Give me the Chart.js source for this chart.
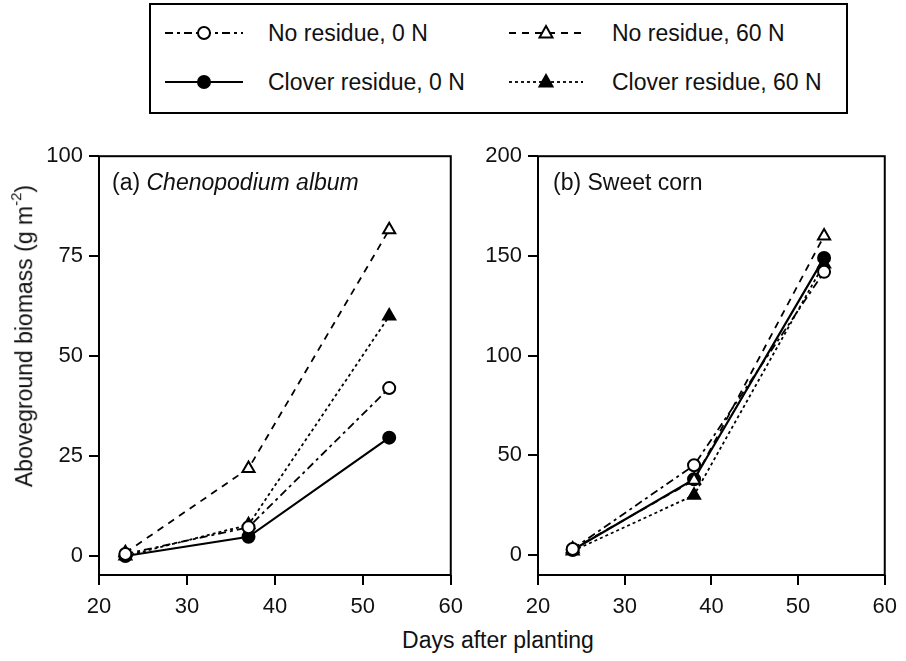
<!DOCTYPE html>
<html>
<head>
<meta charset="utf-8">
<script src="https://cdn.jsdelivr.net/npm/chart.js@4"></script>
<style>
  body { margin: 0; background: #fff; font-family: "Liberation Sans", Arial, sans-serif; }
  #wrap { position: relative; width: 906px; height: 661px; overflow: hidden; }
  .abs { position: absolute; }
  #legend { left: 149px; top: 3px; width: 699px; height: 111px; border: 2px solid #000; box-sizing: border-box; }
  .ltxt { font-size: 23px; line-height: 1; color: #111; white-space: nowrap; }
</style>
</head>
<body>
<div id="wrap">
  <div id="legend" class="abs"></div>
  <canvas id="sw0" class="abs" style="left:162px;top:20px" width="84" height="26"></canvas>
  <canvas id="sw1" class="abs" style="left:506px;top:20px" width="80" height="26"></canvas>
  <canvas id="sw2" class="abs" style="left:162px;top:69px" width="84" height="26"></canvas>
  <canvas id="sw3" class="abs" style="left:506px;top:69px" width="80" height="26"></canvas>
  <div class="abs ltxt" style="left:268px;top:22px">No residue, 0 N</div>
  <div class="abs ltxt" style="left:612px;top:22px">No residue, 60 N</div>
  <div class="abs ltxt" style="left:268px;top:71px">Clover residue, 0 N</div>
  <div class="abs ltxt" style="left:612px;top:71px">Clover residue, 60 N</div>

  <div class="abs" style="left:0;top:137px;width:472px;height:483px"><canvas id="chartA" width="472" height="483"></canvas></div>
  <div class="abs" style="left:470px;top:137px;width:436px;height:483px"><canvas id="chartB" width="436" height="483"></canvas></div>

  <div class="abs ltxt" style="left:112px;top:171px">(a) <i>Chenopodium album</i></div>
  <div class="abs ltxt" style="left:553px;top:171px">(b) Sweet corn</div>

  <div class="abs ltxt" style="left:23px;top:336px;transform:translate(-50%,-50%) rotate(-90deg)">Aboveground biomass (g m<sup style="font-size:15px;position:relative;top:-2px">-2</sup>)</div>
  <div class="abs ltxt" style="left:498px;top:640px;transform:translate(-50%,-50%)">Days after planting</div>
</div>
<script>
// series labels
const seriesNames = ["No residue, 0 N", "No residue, 60 N", "Clover residue, 0 N", "Clover residue, 60 N"];

// (a) Chenopodium album
const daysA = [23, 37, 53];
const noRes0A = [0.5, 7.2, 42];
const noRes60A = [0.8, 21.9, 81.6];
const clover0A = [0, 4.8, 29.6];
const clover60A = [0, 7.8, 60];

// (b) Sweet corn
const daysB = [24, 38, 53];
const noRes0B = [3, 45, 142];
const noRes60B = [3, 37.5, 160];
const clover0B = [2.5, 38, 149];
const clover60B = [2, 30, 146];

const xTicks = [20, 30, 40, 50, 60];
const yTicksA = [0, 25, 50, 75, 100];
const yTicksB = [0, 50, 100, 150, 200];

const styles = [
    { dash: [8, 4, 3, 4], point: "circle", fill: "#fff", radius: 6 },
    { dash: [7, 6], point: "triangle", fill: "#fff", radius: 7 },
    { dash: [], point: "circle", fill: "#000", radius: 6 },
    { dash: [3, 3], point: "triangle", fill: "#000", radius: 7 },
];

const pair = (xs, ys) => xs.map((x, i) => ({ x, y: ys[i] }));

function makeDatasets(days, lists) {
    return lists.map((vals, i) => ({
        label: seriesNames[i],
        data: pair(days, vals),
        borderColor: "#000",
        borderWidth: i === 2 ? 2.2 : 1.8,
        borderDash: styles[i].dash,
        pointStyle: styles[i].point,
        pointRadius: styles[i].radius,
        pointBackgroundColor: styles[i].fill,
        pointBorderColor: "#000",
        pointBorderWidth: 2,
        tension: 0,
        fill: false,
    }));
}

// box round the plot area
const frame = {
    id: "frame",
    afterDraw(chart) {
        const { ctx, chartArea: a } = chart;
        ctx.save();
        ctx.strokeStyle = "#000";
        ctx.lineWidth = 2;
        ctx.strokeRect(a.left, a.top, a.right - a.left, a.bottom - a.top);
        ctx.restore();
    },
};

function axisOpts(kind, min, max, ticks, fitSize) {
    return {
        type: "linear",
        min,
        max,
        afterBuildTicks: (s) => { s.ticks = ticks.map((v) => ({ value: v })); },
        afterFit: (s) => {
            if (kind === "x") s.height = fitSize; else s.width = fitSize;
        },
        grid: { drawOnChartArea: false, drawTicks: true, tickLength: 10, color: "#000", lineWidth: 2 },
        border: { display: false },
        ticks: {
            color: "#111",
            padding: kind === "x" ? 9 : 6,
            font: { family: "Liberation Sans", size: 22 },
        },
    };
}

function makeChart(id, days, lists, yMin, yMax, yTicks, yWidth, rightPad) {
    return new Chart(document.getElementById(id), {
        type: "line",
        data: { datasets: makeDatasets(days, lists) },
        options: {
            responsive: false,
            animation: false,
            layout: { padding: { top: 15, right: rightPad, left: 0, bottom: 0 } },
            plugins: { legend: { display: false }, tooltip: { enabled: false } },
            scales: {
                x: axisOpts("x", 20, 60, xTicks, 45),
                y: axisOpts("y", yMin, yMax, yTicks, yWidth),
            },
        },
        plugins: [frame],
    });
}

makeChart("chartA", daysA, [noRes0A, noRes60A, clover0A, clover60A], -4.75, 100, yTicksA, 99, 18);
makeChart("chartB", daysB, [noRes0B, noRes60B, clover0B, clover60B], -10, 200, yTicksB, 68, 18);

// legend swatches
["sw0", "sw1", "sw2", "sw3"].forEach((id, i) => {
    const cv = document.getElementById(id);
    const c = cv.getContext("2d");
    const st = styles[i];
    const mid = cv.width / 2;
    c.strokeStyle = "#000";
    c.lineWidth = i === 2 ? 2.2 : 1.8;
    c.setLineDash(st.dash);
    c.beginPath();
    c.moveTo(3, 13);
    c.lineTo(cv.width - 3, 13);
    c.stroke();
    c.setLineDash([]);
    c.fillStyle = st.fill;
    c.lineWidth = 2;
    c.beginPath();
    if (st.point === "circle") {
        c.arc(mid, 13, 6, 0, Math.PI * 2);
    } else {
        c.moveTo(mid, 6);
        c.lineTo(mid + 6.5, 17.5);
        c.lineTo(mid - 6.5, 17.5);
        c.closePath();
    }
    c.fill();
    c.stroke();
});
</script>
</body>
</html>
